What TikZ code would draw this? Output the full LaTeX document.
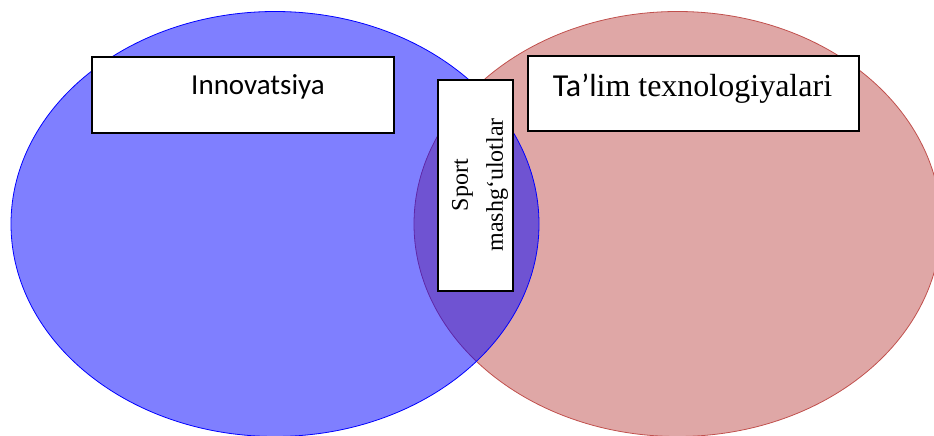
\documentclass[tikz,border=0pt]{standalone}
\usepackage{fontspec}
\setmainfont{Liberation Serif}
\newfontfamily\calib{Carlito}
\definecolor{redfill}{RGB}{192,80,77}
\tikzset{
  setA/.style={fill=blue, fill opacity=0.5, draw=blue, line width=0.8pt},
  setB/.style={fill=redfill, fill opacity=0.5, draw=redfill, line width=0.8pt},
  labelbox/.style={draw=black, fill=white, line width=1.2pt, inner sep=0pt},
}
\begin{document}
\begin{tikzpicture}[x=1pt,y=-1pt]
\useasboundingbox (0,0) rectangle (934,436);
\clip (0,0) rectangle (934,436);
% sets
\draw[setB] (677.5,224) ellipse [x radius=263.5, y radius=212.5];
\draw[setA] (275,224) ellipse [x radius=264, y radius=212.5];
% boxes
\node[labelbox, minimum width=302pt, minimum height=76pt] (boxA) at (243,95) {};
\node[labelbox, minimum width=331pt, minimum height=75pt] (boxB) at (693.5,93.5) {};
\node[labelbox, minimum width=75pt, minimum height=211pt] (boxC) at (475.5,185.5) {};
% texts
\node[anchor=base, inner sep=0pt, font=\calib\fontsize{29}{34}\selectfont] (txtA) at (258,95) {Innovatsiya};
\node[anchor=base, inner sep=0pt, font=\fontsize{32}{38}\selectfont] (txtB) at (692.5,96) {{\calib Ta’l}im texnologiyalari};
\node[rotate=90, align=center, inner sep=0pt, font=\fontsize{24}{35}\selectfont] (txtC) at (480,185) {Sport\\mashg‘ulotlar};
\end{tikzpicture}
\end{document}
